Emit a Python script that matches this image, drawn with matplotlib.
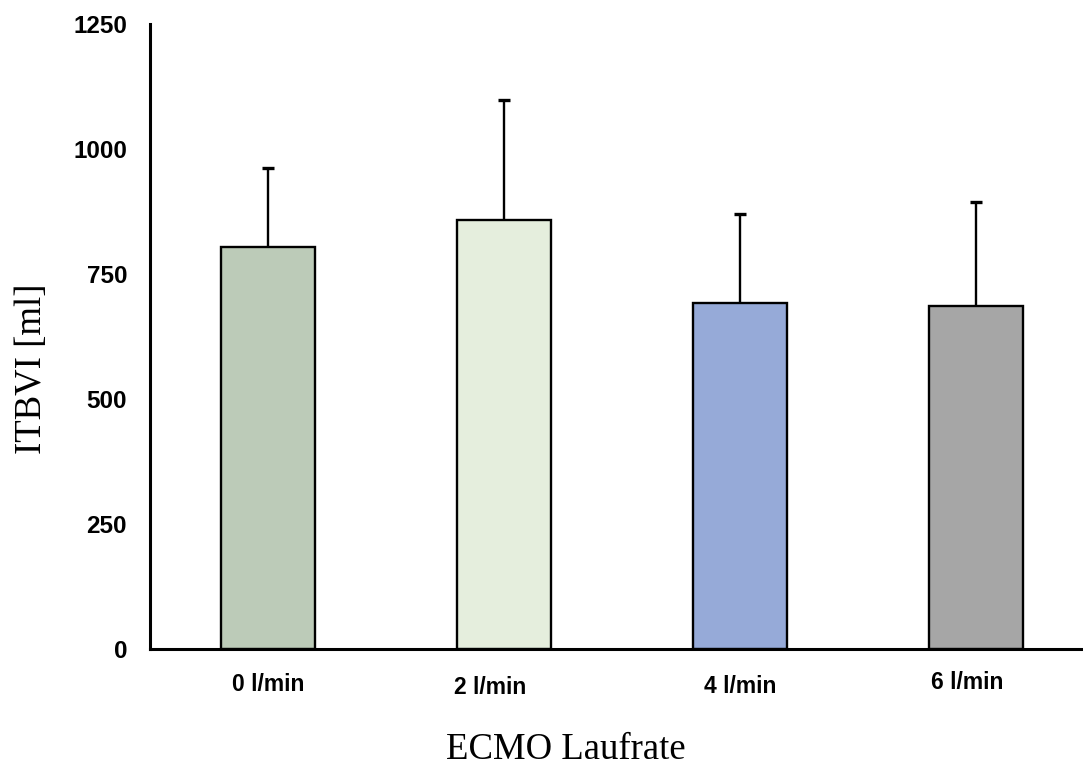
import matplotlib
matplotlib.use("Agg")
import matplotlib.pyplot as plt
import matplotlib.transforms as mtransforms
import numpy as np

# data
categories = ["0 l/min", "2 l/min", "4 l/min", "6 l/min"]
means = [805, 858, 693, 686]
sd_upper = [157, 240, 177, 208]
colors = ["#bccbb8", "#e5eedd", "#96aad8", "#a6a6a6"]
yticks = [0, 250, 500, 750, 1000, 1250]

# small nudges of the category labels (points), as in the reference
label_shift = [(0, 0), (-10, -2.5), (0, -1.5), (-6, 1)]

fig = plt.figure(figsize=(10.83, 7.66), dpi=100)
ax = fig.add_axes([150 / 1083, 117 / 766, 933 / 1083, 625 / 766])

x = np.arange(len(categories))
# symmetric error bars drawn behind the bars, so only the upper half shows
ax.errorbar(x, means, yerr=sd_upper, fmt="none", ecolor="black",
            elinewidth=1.7, capsize=4, capthick=2.4, zorder=1)
ax.bar(x, means, width=0.4, color=colors, edgecolor="black", linewidth=1.7,
       zorder=2)

ax.set_xlim(-0.5, -0.5 + 933 / 236)
ax.set_ylim(0, 1250)
ax.set_yticks(yticks)
ax.set_yticklabels([str(v) for v in yticks], fontfamily="Liberation Sans",
                   fontweight="bold", fontsize=17.5)
ax.set_xticks(x)
ax.set_xticklabels(categories, fontfamily="Liberation Sans",
                   fontweight="bold", fontsize=16.5)
ax.tick_params(axis="y", length=0, pad=16.5)
ax.tick_params(axis="x", length=0, pad=17)

for lab, (dx, dy) in zip(ax.get_xticklabels(), label_shift):
    lab.set_transform(lab.get_transform() +
                      mtransforms.ScaledTranslation(dx / 72, dy / 72,
                                                    fig.dpi_scale_trans))

for side in ["top", "right"]:
    ax.spines[side].set_visible(False)
ax.spines["left"].set_linewidth(2.2)
ax.spines["bottom"].set_linewidth(2.2)
ax.spines["left"].set_zorder(3)
ax.spines["bottom"].set_zorder(3)

fig.text(32 / 1083, 1 - 369 / 766, "ITBVI [ml]", rotation=90, ha="center",
         va="center", fontfamily="Liberation Serif", fontsize=26.5)
fig.text(566 / 1083, 1 - 750 / 766, "ECMO Laufrate", ha="center",
         va="center", fontfamily="Liberation Serif", fontsize=26.5)

fig.savefig("out.png", dpi=100)
